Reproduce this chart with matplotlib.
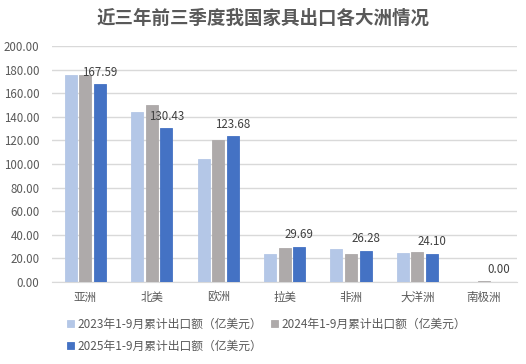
import numpy as np
import matplotlib.pyplot as plt

plt.rcParams['font.family'] = ['Noto Sans CJK SC', 'DejaVu Sans']

# data
regions = ['亚洲', '北美', '欧洲', '拉美', '非洲', '大洋洲', '南极洲']
exp_2023 = [175.5, 144.0, 104.3, 23.6, 27.8, 24.4, 0.0]
exp_2024 = [175.8, 150.0, 120.3, 28.7, 23.6, 25.2, 0.6]
exp_2025 = [167.59, 130.43, 123.68, 29.69, 26.28, 24.10, 0.004]
series_names = ['2023年1-9月累计出口额（亿美元）',
                '2024年1-9月累计出口额（亿美元）',
                '2025年1-9月累计出口额（亿美元）']
colors = ['#B4C7E7', '#AEAAAA', '#4472C4']
yticks = np.arange(0, 201, 20)

txt = '#595959'
fig = plt.figure(figsize=(5.26, 3.64), dpi=100)
ax = fig.add_axes([0.099, 0.2253, 0.884, 0.6483])

x = np.arange(len(regions))
w = 0.18
step = 0.22
bars = []
for k, vals in enumerate([exp_2023, exp_2024, exp_2025]):
    b = ax.bar(x + (k - 1) * step, vals, width=w, color=colors[k],
               edgecolor=colors[k], linewidth=0.6, label=series_names[k], zorder=3)
    bars.append(b)

# labels only on the 2025 series
for xi, v in zip(x, exp_2025):
    ax.annotate('%.2f' % v, (xi + step, v), xytext=(0, 4), textcoords='offset points',
                ha='center', va='bottom', fontsize=8.3, color='#404040')

ax.set_xlim(-0.5, len(regions) - 0.5)
ax.set_ylim(0, 200)
ax.set_yticks(yticks)
ax.set_yticklabels(['%.2f' % t for t in yticks])
ax.yaxis.grid(True, color='#D9D9D9', linewidth=1, zorder=0)
ax.set_axisbelow(True)
for s in ['top', 'right', 'left']:
    ax.spines[s].set_visible(False)
ax.spines['bottom'].set_color('#D9D9D9')
ax.tick_params(axis='both', length=0, colors=txt, labelsize=8.3)
ax.tick_params(axis='y', pad=9)
ax.tick_params(axis='x', pad=6.5)
ax.set_xticks(x)
ax.set_xticklabels(regions)

fig.suptitle('近三年前三季度我国家具出口各大洲情况', x=0.5, y=0.975,
             fontsize=13.3, fontweight='bold', color=txt)

h = [bars[0], bars[2], bars[1]]
lab = [series_names[0], series_names[2], series_names[1]]
leg = fig.legend(h, lab, ncol=2, loc='upper left', bbox_to_anchor=(0.127, 0.127),
                 frameon=False, fontsize=8.5, handlelength=0.6, handleheight=0.6,
                 handletextpad=0.3, columnspacing=0.75, labelspacing=0.75,
                 borderaxespad=0, borderpad=0)
for t in leg.get_texts():
    t.set_color(txt)

fig.savefig('out.png', dpi=100)
